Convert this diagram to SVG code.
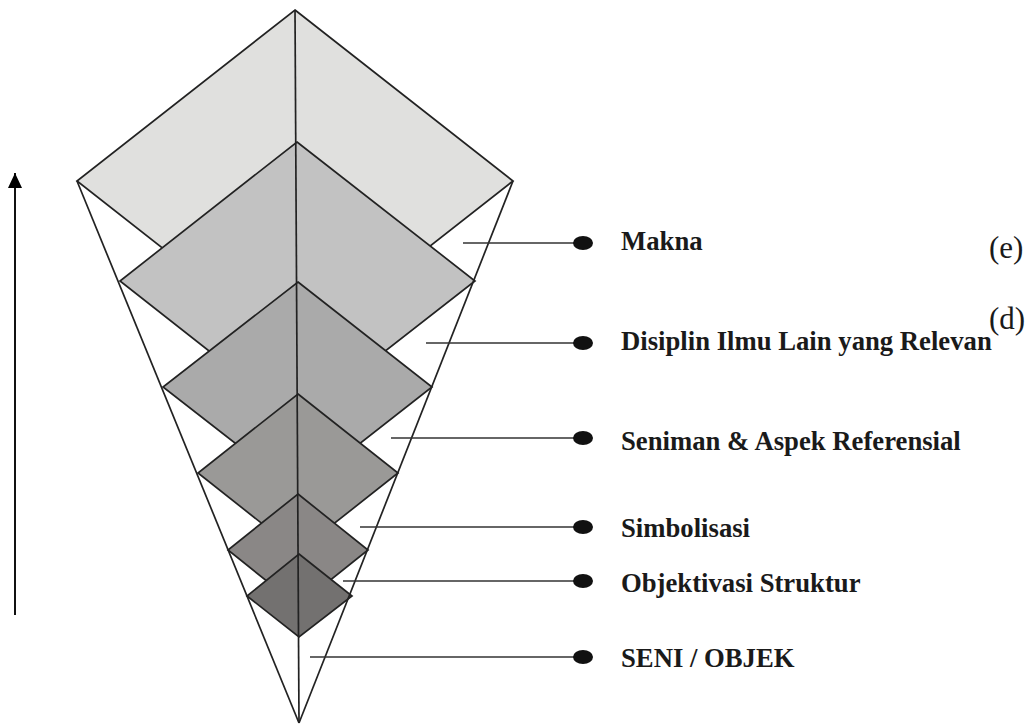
<svg xmlns="http://www.w3.org/2000/svg" width="1035" height="726" viewBox="0 0 1035 726">
<style>
.d{stroke:#222;stroke-width:1.7;stroke-linejoin:miter}
.f{stroke:#222;stroke-width:1.7;fill:none}
.ld{stroke:#333;stroke-width:1.7}
.dot{fill:#111}
.lbl{font-family:"Liberation Serif","Times New Roman",serif;font-weight:bold;font-size:26.7px;fill:#1a1a1a}
.tag{font-family:"Liberation Serif","Times New Roman",serif;font-size:31px;fill:#1a1a1a}
</style>
<defs>
<marker id="ah" markerWidth="16" markerHeight="14" refX="15" refY="7" orient="auto" markerUnits="userSpaceOnUse">
<path d="M0,0 L15,7 L0,14 Z" fill="#000"/>
</marker>
</defs>
<rect width="1035" height="726" fill="#fff"/>
<g id="layers">
<polygon id="layer-e" class="d" fill="#e0e0de" points="295,10 513,181 295,352 77,181"/>
<polygon id="layer-d" class="d" fill="#c2c2c2" points="297,142 475,281 297,420 120,281"/>
<polygon id="layer-c" class="d" fill="#aaaaaa" points="298,282 432,387 298,492 163,387"/>
<polygon id="layer-b" class="d" fill="#9a9997" points="298,394 398,473 298,552 198,473"/>
<polygon id="layer-a" class="d" fill="#8a8786" points="298,494 368,550 298,606 228,550"/>
<polygon id="layer-0" class="d" fill="#737170" points="299,554 352,596 299,637 247,596"/>
</g>
<g id="funnel">
<line class="f" x1="77" y1="181" x2="299" y2="723"/>
<line class="f" x1="513" y1="181" x2="299" y2="723"/>
<line class="f" x1="295" y1="10" x2="299" y2="723"/>
</g>
<g id="connectors">
<line class="ld" x1="463" y1="243" x2="583" y2="243"/>
<line class="ld" x1="426" y1="343" x2="583" y2="343"/>
<line class="ld" x1="391" y1="438" x2="583" y2="438"/>
<line class="ld" x1="360" y1="527" x2="583" y2="527"/>
<line class="ld" x1="343" y1="581" x2="583" y2="581"/>
<line class="ld" x1="310" y1="657" x2="583" y2="657"/>
<line x1="15" y1="615" x2="15" y2="173" stroke="#111" stroke-width="2" marker-end="url(#ah)"/>
</g>
<g id="label-makna"><ellipse class="dot" cx="583" cy="243" rx="10" ry="7"/><text class="lbl" x="621" y="250">Makna</text></g>
<g id="label-disiplin"><ellipse class="dot" cx="583" cy="343" rx="10" ry="7"/><text class="lbl" x="621" y="350">Disiplin Ilmu Lain yang Relevan</text></g>
<g id="label-seniman"><ellipse class="dot" cx="583" cy="438" rx="10" ry="7"/><text class="lbl" x="621" y="450">Seniman &amp; Aspek Referensial</text></g>
<g id="label-simbolisasi"><ellipse class="dot" cx="583" cy="527" rx="10" ry="7"/><text class="lbl" x="621" y="537">Simbolisasi</text></g>
<g id="label-objektivasi"><ellipse class="dot" cx="583" cy="581" rx="10" ry="7"/><text class="lbl" x="621" y="592">Objektivasi Struktur</text></g>
<g id="label-seni"><ellipse class="dot" cx="583" cy="657" rx="10" ry="7"/><text class="lbl" x="621" y="667">SENI / OBJEK</text></g>
<g id="tags">
<text class="tag" x="989" y="258">(e)</text>
<text class="tag" x="989" y="329">(d)</text>
</g>
</svg>
